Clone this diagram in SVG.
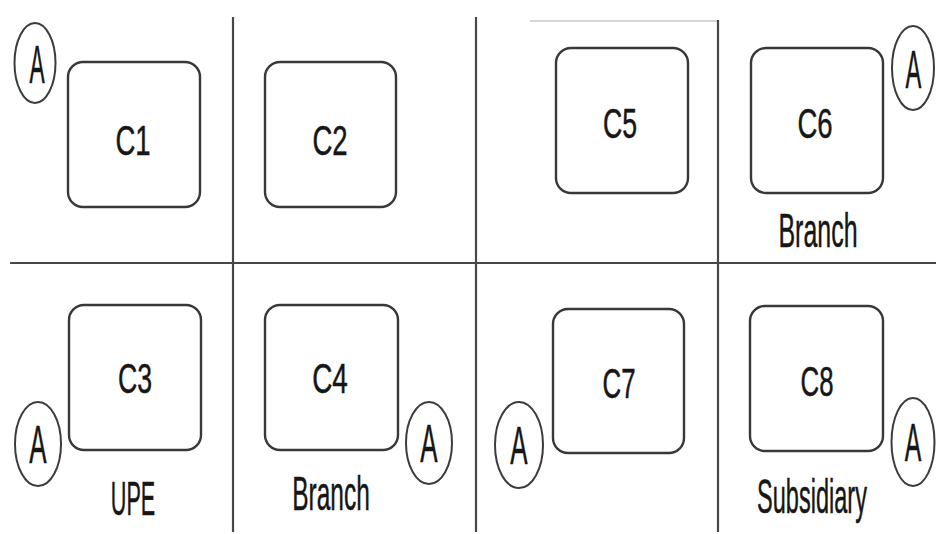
<svg xmlns="http://www.w3.org/2000/svg" width="936" height="534" viewBox="0 0 936 534">
  <style>
    .grid { stroke: #474747; stroke-width: 2.2; fill: none; }
    .faint { stroke: #d6d6d6; stroke-width: 2; fill: none; }
    .box { fill: #ffffff; stroke: #383838; stroke-width: 2.4; }
    .mark { fill: #ffffff; stroke: #3c3c3c; stroke-width: 2; }
    text { font-family: "Liberation Sans", Arial, sans-serif; fill: #161616; text-anchor: middle; stroke: #161616; stroke-width: 0.5; }
    .name { font-size: 43px; }
    .tag { font-size: 48px; }
    .a { font-size: 54px; }
  </style>
  <rect width="936" height="534" fill="#ffffff"/>

  <!-- quadrant dividers -->
  <g id="connectors">
    <line class="faint" x1="530" y1="21" x2="718" y2="21"/>
    <line class="grid" x1="10" y1="263" x2="936" y2="263" stroke-width="3"/>
    <line class="grid" x1="233" y1="17" x2="233" y2="532"/>
    <line class="grid" x1="476" y1="17" x2="476" y2="532"/>
    <line class="grid" x1="718" y1="20" x2="718" y2="532"/>
  </g>

  <!-- top row -->
  <g id="c1">
    <rect class="box" x="68" y="62" width="132" height="145" rx="15"/>
    <text class="name" transform="translate(133,155) scale(0.64,1)">C1</text>
    <ellipse class="mark" cx="35" cy="63" rx="20.5" ry="40"/>
    <text class="a" transform="translate(37,83) scale(0.42,1)">A</text>
  </g>
  <g id="c2">
    <rect class="box" x="265" y="62" width="131" height="145" rx="15"/>
    <text class="name" transform="translate(330,155) scale(0.64,1)">C2</text>
  </g>
  <g id="c5">
    <rect class="box" x="556" y="48" width="132" height="145" rx="15"/>
    <text class="name" transform="translate(620,138) scale(0.62,1)">C5</text>
  </g>
  <g id="c6">
    <rect class="box" x="751" y="48" width="132" height="145" rx="15"/>
    <text class="name" transform="translate(815,138) scale(0.64,1)">C6</text>
    <text class="tag" transform="translate(818,247) scale(0.52,1)">Branch</text>
    <ellipse class="mark" cx="913" cy="68" rx="21" ry="42"/>
    <text class="a" transform="translate(913.5,88) scale(0.44,1)">A</text>
  </g>

  <!-- bottom row -->
  <g id="c3">
    <rect class="box" x="69" y="305" width="132" height="145" rx="15"/>
    <text class="name" transform="translate(135,393) scale(0.62,1)">C3</text>
    <text class="tag" transform="translate(133,515) scale(0.45,1)">UPE</text>
    <ellipse class="mark" cx="38" cy="444" rx="23" ry="42"/>
    <text class="a" transform="translate(38,463) scale(0.48,1)">A</text>
  </g>
  <g id="c4">
    <rect class="box" x="265" y="305" width="133" height="145" rx="15"/>
    <text class="name" transform="translate(330,393) scale(0.65,1)">C4</text>
    <text class="tag" transform="translate(331,510) scale(0.51,1)">Branch</text>
    <ellipse class="mark" cx="429" cy="443" rx="23" ry="41"/>
    <text class="a" transform="translate(429,462) scale(0.48,1)">A</text>
  </g>
  <g id="c7">
    <rect class="box" x="553" y="309" width="131" height="144" rx="15"/>
    <text class="name" transform="translate(619,398) scale(0.6,1)">C7</text>
    <ellipse class="mark" cx="519" cy="445" rx="24" ry="43"/>
    <text class="a" transform="translate(519,464) scale(0.48,1)">A</text>
  </g>
  <g id="c8">
    <rect class="box" x="750" y="306" width="133" height="145" rx="15"/>
    <text class="name" transform="translate(817,396) scale(0.6,1)">C8</text>
    <text class="tag" font-size="46" transform="translate(812,513) scale(0.49,1)">Subsidiary</text>
    <ellipse class="mark" cx="913" cy="442" rx="21.5" ry="44"/>
    <text class="a" transform="translate(913,461) scale(0.46,1)">A</text>
  </g>
</svg>
